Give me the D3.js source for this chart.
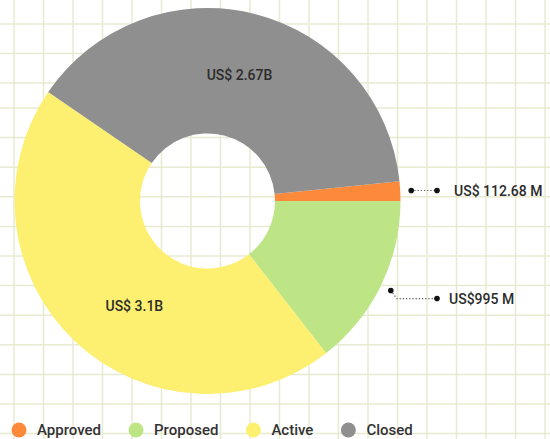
<!DOCTYPE html>
<html>
<head>
<meta charset="utf-8">
<script src="https://cdn.jsdelivr.net/npm/d3@7/dist/d3.min.js"></script>
<style>
  html, body { margin: 0; padding: 0; background: #ffffff; }
  svg { display: block; font-family: Roboto, "Noto Sans", sans-serif; }
</style>
</head>
<body>
<svg id="chart" width="550" height="439"></svg>
<script>
// ---- data ----
const categories = ["Approved", "Proposed", "Active", "Closed"];
const values = [112.68, 995, 3100, 2670];          // millions of US$
const valueLabels = ["US$ 112.68 M", "US$995 M", "US$ 3.1B", "US$ 2.67B"];
const colors = ["#fd8a3a", "#bde586", "#fdef70", "#8f8f8f"];
const outsideLabel = [true, true, false, false];

const W = 550, H = 439;
const svg = d3.select("#chart");

// ---- background grid ----
const grid = svg.append("g").attr("stroke", "#e8ead0").attr("stroke-width", 1.5);
d3.range(14, W, 29.5).forEach(x =>
  grid.append("line").attr("x1", x).attr("x2", x).attr("y1", 0).attr("y2", H));
[24, 53.5, 83].concat(d3.range(108, H, 29.6)).forEach(y =>
  grid.append("line").attr("x1", 0).attr("x2", W).attr("y1", y).attr("y2", y));

// ---- donut ----
const cx = 207.5, cy = 201, rOuter = 193, rInner = 67.5;
const data = categories.map((c, i) => ({ cat: c, value: values[i], label: valueLabels[i], color: colors[i], outside: outsideLabel[i] }));
const total = d3.sum(values);
const start = Math.PI / 2 - 2 * Math.PI * values[0] / total;
const pie = d3.pie().sort(null).value(d => d.value).startAngle(start).endAngle(start + 2 * Math.PI);
const arcs = pie(data);
const arc = d3.arc().innerRadius(rInner).outerRadius(rOuter);

const g = svg.append("g").attr("transform", `translate(${cx},${cy})`);
g.selectAll("path.slice").data(arcs).enter().append("path")
  .attr("class", "slice")
  .attr("d", arc)
  .attr("fill", d => d.data.color);

// inside labels
const nudge = { Active: [16, 10] };
g.selectAll("text.inlbl").data(arcs.filter(d => !d.data.outside)).enter().append("text")
  .attr("class", "inlbl")
  .attr("x", d => arc.centroid(d)[0] + (nudge[d.data.cat] ? nudge[d.data.cat][0] : 0))
  .attr("y", d => arc.centroid(d)[1] + (nudge[d.data.cat] ? nudge[d.data.cat][1] : 0))
  .attr("text-anchor", "middle")
  .attr("dominant-baseline", "central")
  .attr("font-size", 14)
  .attr("font-weight", 500)
  .attr("fill", "#2b2b2b")
  .text(d => d.data.label);

// outside labels with dotted leader lines
const rDot = 204;
const lineEndX = 437 - cx;
arcs.filter(d => d.data.outside).forEach((d, k) => {
  const a = (d.startAngle + d.endAngle) / 2;
  const px = rDot * Math.sin(a), py = -rDot * Math.cos(a);
  const ey = py + (k === 0 ? 0 : 8);
  const pts = k === 0 ? [[px, py], [lineEndX, ey]] : [[px, py], [px + 6, ey], [lineEndX, ey]];
  g.append("path")
    .attr("d", d3.line()(pts))
    .attr("fill", "none")
    .attr("stroke", "#555")
    .attr("stroke-width", 1.2)
    .attr("stroke-dasharray", "1.2,2");
  g.append("circle").attr("cx", px).attr("cy", py).attr("r", 2.8).attr("fill", "#111");
  g.append("circle").attr("cx", lineEndX).attr("cy", ey).attr("r", 2.8).attr("fill", "#111");
  g.append("text")
    .attr("x", lineEndX + (k === 0 ? 17 : 12))
    .attr("y", ey)
    .attr("dominant-baseline", "central")
    .attr("font-size", 14)
    .attr("font-weight", 500)
    .attr("fill", "#2b2b2b")
    .text(d.data.label);
});

// ---- legend ----
const legend = svg.append("g").attr("transform", "translate(0,430)");
let lx = 19;
data.forEach(d => {
  const item = legend.append("g");
  item.append("circle").attr("cx", lx).attr("cy", 0).attr("r", 7.5).attr("fill", d.color);
  const t = item.append("text")
    .attr("x", lx + 18)
    .attr("y", 0)
    .attr("dominant-baseline", "central")
    .attr("font-size", 15)
    .attr("font-weight", 500)
    .attr("fill", "#333")
    .text(d.cat);
  const w = t.node().getComputedTextLength();
  lx = lx + 18 + w + 35;
});
</script>
</body>
</html>
